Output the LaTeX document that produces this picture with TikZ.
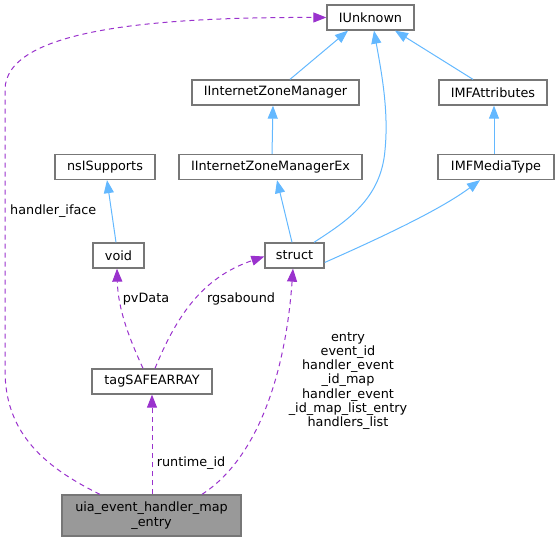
\documentclass[tikz,border=0pt]{standalone}
\usepackage{fontspec}
\setmainfont{DejaVu Sans}
\usetikzlibrary{arrows.meta}
\definecolor{edgeblue}{HTML}{63B8FF}
\definecolor{edgepurple}{HTML}{9A32CD}
\definecolor{boxborder}{HTML}{777777}
\definecolor{mainfill}{HTML}{999999}
\begin{document}
\begin{tikzpicture}[x=1pt,y=-1pt,
  every node/.style={font=\fontsize{12.8}{14.3}\selectfont},
  cls/.style={draw=boxborder, line width=1.3pt, fill=white, inner sep=0pt, minimum height=25pt},
  inherit/.style={draw=edgeblue, line width=1pt, -{Triangle[length=13pt,width=10pt]}},
  usage/.style={draw=edgepurple, line width=1pt, dash pattern=on 5pt off 4pt, -{Triangle[length=13pt,width=10pt]}},
  lbl/.style={inner sep=0pt, align=center}]
\useasboundingbox (0,0) rectangle (559,541);

\node[cls, minimum width=87pt] (IUnknown) at (370.5,17.5) {IUnknown};
\node[cls, minimum width=167pt] (IIZM) at (275.5,92.5) {IInternetZoneManager};
\node[cls, minimum width=108pt] (IMFA) at (493,92.5) {IMFAttributes};
\node[cls, minimum width=100pt] (nsIS) at (105,167) {nsISupports};
\node[cls, minimum width=183pt] (IIZMEx) at (270.5,167) {IInternetZoneManagerEx};
\node[cls, minimum width=116pt] (IMFMT) at (496,167) {IMFMediaType};
\node[cls, minimum width=51pt] (void) at (118.5,255.5) {void};
\node[cls, minimum width=59pt] (struct) at (294.5,255.5) {struct};
\node[cls, minimum width=120pt] (tagSA) at (152,381.5) {tagSAFEARRAY};
\node[cls, fill=mainfill, minimum width=179pt, minimum height=41pt, align=center] (uia) at (151.5,515.5) {uia\_event\_handler\_map\\\_entry};

% inheritance (blue)
\draw[inherit] ([xshift=14.5pt]IIZM.north) -- ([xshift=-22.5pt]IUnknown.south);
\draw[inherit] ([xshift=-20pt]IMFA.north) -- ([xshift=24.5pt]IUnknown.south);
\draw[inherit] ([xshift=19.5pt]struct.north) .. controls (345,222) and (381,200) .. (385,150)
  .. controls (389,110) and (381,70) .. ([xshift=3.5pt]IUnknown.south);
\draw[inherit] ([xshift=-2pt]IMFMT.north) -- ([xshift=1pt]IMFA.south);
\draw[inherit] ([xshift=1.5pt]IIZMEx.north) -- ([xshift=-2.5pt]IIZM.south);
\draw[inherit] ([xshift=-2.5pt]struct.north) -- ([xshift=6.5pt]IIZMEx.south);
\draw[inherit] ([yshift=-7pt]struct.east) .. controls (380,238) and (440,210) .. ([xshift=-16pt]IMFMT.south);
\draw[inherit] ([xshift=-2.5pt]void.north) -- ([xshift=2pt]nsIS.south);

% usage (purple dashed)
\draw[usage] ([xshift=-9pt]tagSA.north) .. controls (130,340) and (118,310) .. ([xshift=-1.5pt]void.south);
\draw[usage] ([xshift=3pt]tagSA.north) .. controls (175,320) and (200,278) .. ([yshift=-1pt]struct.west);
\draw[usage] ([xshift=0.5pt]uia.north) -- (tagSA.south);
\draw[usage] ([xshift=50.5pt]uia.north) .. controls (255,460) and (285,380) .. ([xshift=-1.5pt]struct.south);
\draw[usage] ([xshift=-51.5pt]uia.north) .. controls (40,465) and (5,430) .. (5,370)
  -- (5,90) .. controls (5,30) and (150,17) .. (IUnknown.west);

% labels
\node[lbl, anchor=west] (lhandler) at (10,211) {handler\_iface};
\node[lbl] (lpv) at (146,299) {pvData};
\node[lbl] (lrgs) at (241,299) {rgsabound};
\node[lbl] (lrt) at (191,463) {runtime\_id};
\node[lbl] (lmulti) at (348,381) {entry\\event\_id\\handler\_event\\\_id\_map\\handler\_event\\\_id\_map\_list\_entry\\handlers\_list};
\end{tikzpicture}
\end{document}
